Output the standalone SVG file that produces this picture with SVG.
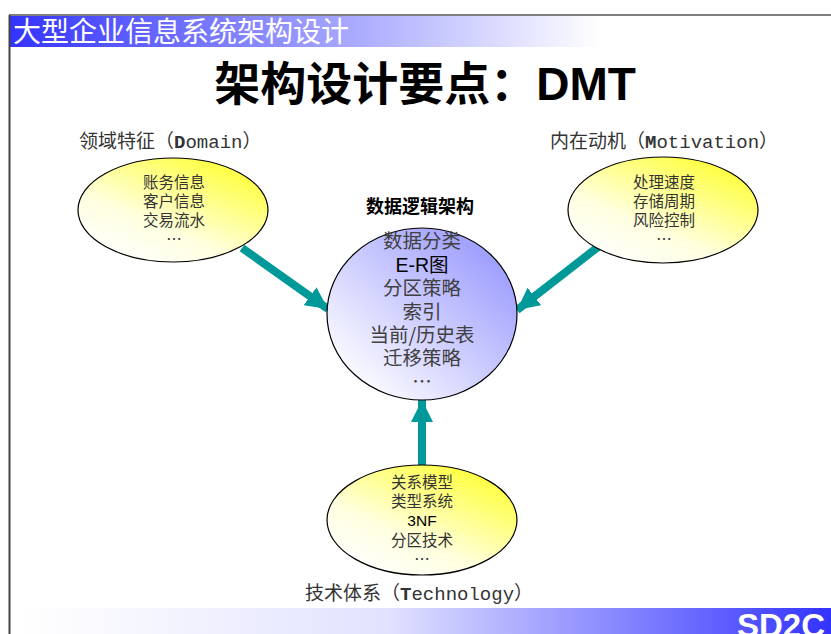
<svg xmlns="http://www.w3.org/2000/svg" width="831" height="634" viewBox="0 0 831 634">
<style>
.cjk{font-family:"Noto Sans CJK SC","Liberation Sans",sans-serif}
.hdr{font-size:28px;fill:#ffffff}
.title{font-size:46px;font-weight:bold;fill:#000}
.lbl{font-size:19px;fill:#333333}
.lat{font-family:"Liberation Mono","Noto Sans CJK SC",monospace}
.small{font-size:15.5px;fill:#333333;text-anchor:middle}
.mid{font-size:19.5px;fill:#404040;text-anchor:middle}
.ell{stroke:#000;stroke-width:1.2}
.conn{stroke:#009999;stroke-width:8;fill:none}
</style>
<defs>
<linearGradient id="hdrG" x1="10" y1="0" x2="831" y2="0" gradientUnits="userSpaceOnUse">
<stop offset="0" stop-color="#3333ff"/>
<stop offset="0.72" stop-color="#ffffff"/>
<stop offset="1" stop-color="#ffffff"/>
</linearGradient>
<linearGradient id="ftrG" x1="24" y1="0" x2="831" y2="0" gradientUnits="userSpaceOnUse">
<stop offset="0" stop-color="#ffffff"/>
<stop offset="0.45" stop-color="#e2e2ff"/>
<stop offset="1" stop-color="#3333ff"/>
</linearGradient>
<linearGradient id="yel" x1="0.15" y1="0.95" x2="0.85" y2="0.05">
<stop offset="0" stop-color="#ffffff"/>
<stop offset="0.35" stop-color="#ffffe0"/>
<stop offset="1" stop-color="#ffff33"/>
</linearGradient>
<linearGradient id="blu" x1="0.1" y1="0.9" x2="0.9" y2="0.1">
<stop offset="0" stop-color="#ffffff"/>
<stop offset="1" stop-color="#9999ff"/>
</linearGradient>
<marker id="ah" markerUnits="userSpaceOnUse" markerWidth="24" markerHeight="24" refX="22" refY="11" orient="auto">
<path d="M0,0 L22,11 L0,22 Z" fill="#009999"/>
</marker>
</defs>

<g id="frame">
<rect x="10" y="16" width="821" height="31" fill="url(#hdrG)"/>
<line x1="9" y1="15" x2="831" y2="15" stroke="#555" stroke-width="1.5"/>
<line x1="9.5" y1="15" x2="9.5" y2="634" stroke="#444" stroke-width="2"/>
<rect x="24" y="608" width="807" height="26" fill="url(#ftrG)"/>
<text x="13" y="42" class="cjk hdr">大型企业信息系统架构设计</text>
<text x="737" y="637" font-family="Liberation Sans,Arial,sans-serif" font-size="33" font-weight="bold" fill="#ffffff">SD2C</text>
<text x="425" y="100" class="cjk title" text-anchor="middle">架构设计要点：<tspan font-family="Liberation Sans,Arial,sans-serif">DMT</tspan></text>
</g>

<g id="connectors">
<line class="conn" x1="242" y1="248" x2="328" y2="309" marker-end="url(#ah)"/>
<line class="conn" x1="598" y1="247" x2="517" y2="310" marker-end="url(#ah)"/>
<line class="conn" x1="422" y1="466" x2="422" y2="400" marker-end="url(#ah)"/>
</g>

<g id="domain">
<text x="79" y="148" class="cjk lbl">领域特征（<tspan class="lat" font-weight="bold">D</tspan><tspan class="lat">omain</tspan>）</text>
<ellipse class="ell" cx="173" cy="210" rx="95" ry="52" fill="url(#yel)"/>
<text x="174" y="188" class="cjk small">账务信息</text>
<text x="174" y="207" class="cjk small">客户信息</text>
<text x="174" y="226" class="cjk small">交易流水</text>
<text x="174" y="245" class="cjk small">…</text>
</g>

<g id="motivation">
<text x="550" y="148" class="cjk lbl">内在动机（<tspan class="lat" font-weight="bold">M</tspan><tspan class="lat">otivation</tspan>）</text>
<ellipse class="ell" cx="663" cy="210" rx="95" ry="53" fill="url(#yel)"/>
<text x="664" y="188" class="cjk small">处理速度</text>
<text x="664" y="207" class="cjk small">存储周期</text>
<text x="664" y="226" class="cjk small">风险控制</text>
<text x="664" y="245" class="cjk small">…</text>
</g>

<g id="logic">
<text x="420" y="213" class="cjk" font-size="18" font-weight="bold" text-anchor="middle" fill="#000">数据逻辑架构</text>
<ellipse class="ell" cx="422" cy="314" rx="95" ry="86" fill="url(#blu)"/>
<text x="422" y="248" class="cjk mid">数据分类</text>
<text x="422" y="272" class="cjk mid"><tspan font-family="Liberation Sans,Arial,sans-serif" fill="#000">E-R</tspan><tspan fill="#000">图</tspan></text>
<text x="422" y="295" class="cjk mid">分区策略</text>
<text x="422" y="319" class="cjk mid">索引</text>
<text x="422" y="342" class="cjk mid">当前/历史表</text>
<text x="422" y="365" class="cjk mid">迁移策略</text>
<text x="422" y="389" class="cjk mid">…</text>
</g>

<g id="technology">
<ellipse class="ell" cx="422" cy="520" rx="95" ry="55" fill="url(#yel)"/>
<text x="422" y="488" class="cjk small">关系模型</text>
<text x="422" y="507" class="cjk small">类型系统</text>
<text x="422" y="526" class="cjk small" fill="#000"><tspan font-family="Liberation Sans,Arial,sans-serif" fill="#000">3NF</tspan></text>
<text x="422" y="546" class="cjk small">分区技术</text>
<text x="422" y="565" class="cjk small">…</text>
<text x="305" y="600" class="cjk lbl">技术体系（<tspan class="lat" font-weight="bold">T</tspan><tspan class="lat">echnology</tspan>）</text>
</g>
</svg>
